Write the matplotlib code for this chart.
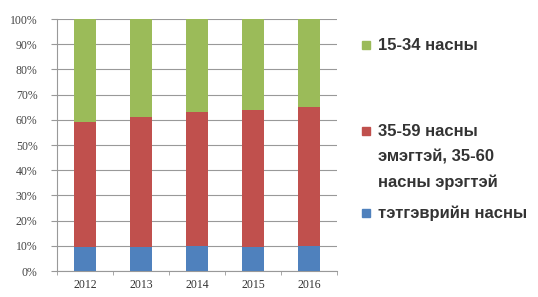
import matplotlib
matplotlib.use("Agg")
import matplotlib.pyplot as plt
from matplotlib.patches import Rectangle
import numpy as np

years = ["2012", "2013", "2014", "2015", "2016"]
pension_age = [9.6, 9.6, 10.1, 9.6, 10.1]
working_age = [49.4, 51.6, 52.9, 54.4, 55.1]
youth = [41.0, 38.8, 37.0, 36.0, 34.8]

labels = ["15-34 насны", "35-59 насны\nэмэгтэй, 35-60\nнасны эрэгтэй", "тэтгэврийн насны"]
colors = ["#9BBB59", "#C0504D", "#4F81BD"]

plt.rcParams['font.family'] = ['Liberation Sans', 'DejaVu Sans']

fig = plt.figure(figsize=(5.38, 2.97), dpi=100)
ax = fig.add_axes([57 / 538, 26 / 297, 280 / 538, 252 / 297])

x = np.arange(len(years))
w = 0.41
ax.bar(x, pension_age, w, color=colors[2], zorder=3)
ax.bar(x, working_age, w, bottom=pension_age, color=colors[1], zorder=3)
bottom2 = np.array(pension_age) + np.array(working_age)
ax.bar(x, youth, w, bottom=bottom2, color=colors[0], zorder=3)

ax.set_xlim(-0.5, len(years) - 0.5)
ax.set_ylim(0, 100)
ax.set_yticks(np.arange(0, 101, 10))
ax.set_yticklabels([f"{v}%" for v in range(0, 101, 10)], fontsize=8.5,
                   color="#444444", family="Liberation Serif")
ax.set_xticks(x)
ax.set_xticklabels(years, fontsize=8.5, color="#333333", family="Liberation Serif")
ax.set_xticks(np.arange(-0.5, len(years), 1), minor=True)
ax.tick_params(axis='x', which='major', length=0, pad=6)
ax.tick_params(axis='x', which='minor', length=3, color="#999999")
ax.tick_params(axis='y', length=4, color="#999999", pad=10)
ax.yaxis.grid(True, color="#999999", linewidth=0.8, zorder=0)
for s in ["top", "right"]:
    ax.spines[s].set_visible(False)
for s in ["left", "bottom"]:
    ax.spines[s].set_color("#999999")

# legend drawn in figure pixels, one y per text line
legend_y = [[45], [131, 157, 182], [213]]
for lab, col, ys in zip(labels, colors, legend_y):
    fig.patches.append(Rectangle((362 / 538, 1 - (ys[0] + 4) / 297), 8 / 538, 8 / 297,
                                 transform=fig.transFigure, color=col))
    for line, yy in zip(lab.split("\n"), ys):
        fig.text(378 / 538, 1 - yy / 297, line, fontsize=12, fontweight="bold",
                 va="center", ha="left", color="#333333")

fig.savefig("out.png", dpi=100)
